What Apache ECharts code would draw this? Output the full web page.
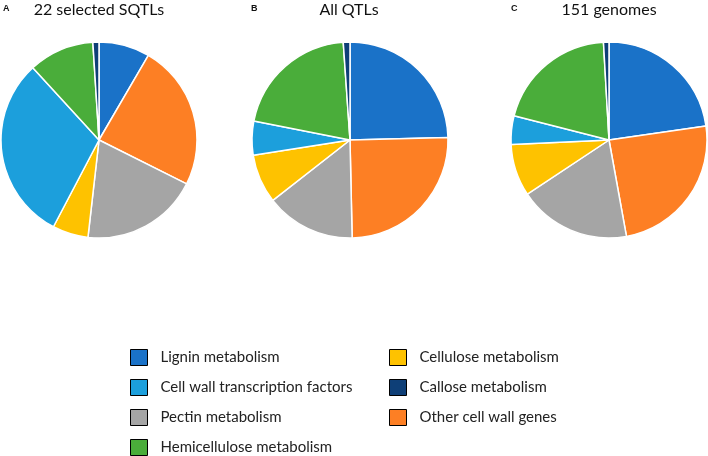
<!DOCTYPE html>
<html>
<head>
<meta charset="utf-8">
<script src="https://cdn.jsdelivr.net/npm/echarts@6/dist/echarts.min.js"></script>
<style>
html,body{margin:0;padding:0;background:#fff;}
#c{width:708px;height:456px;}
</style>
</head>
<body>
<div id="c"></div>
<script>
// Categories in clockwise slice order (starting at 12 o'clock)
const categories = ['Lignin metabolism', 'Other cell wall genes', 'Pectin metabolism', 'Cellulose metabolism',
  'Cell wall transcription factors', 'Hemicellulose metabolism', 'Callose metabolism'];
const colors = ['#1a72c8', '#fd7f24', '#a5a5a5', '#fec200', '#1c9fdc', '#4aad3a', '#0e3f77'];
// Percent shares
const sqtlValues = [8.4, 24.0, 19.4, 5.9, 30.5, 10.8, 1.0];
const allQtlValues = [24.6, 25.1, 14.8, 8.1, 5.6, 20.8, 1.1];
const genomeValues = [22.7, 24.4, 18.5, 8.6, 4.7, 20.1, 0.9];
const panelLetters = ['A', 'B', 'C'];
const panelTitles = ['22 selected SQTLs', 'All QTLs', '151 genomes'];
const legendCol1 = ['Lignin metabolism', 'Cell wall transcription factors', 'Pectin metabolism', 'Hemicellulose metabolism'];
const legendCol2 = ['Cellulose metabolism', 'Callose metabolism', 'Other cell wall genes'];

const font = 'Lato, "Noto Sans", sans-serif';
const centers = [[99, 140], [350, 140], [609, 140]];
const letterX = [3, 251, 511];
const titleX = [99, 349, 609];
const valueSets = [sqtlValues, allQtlValues, genomeValues];

const chart = echarts.init(document.getElementById('c'), null, {renderer: 'canvas'});

const titles = [];
panelLetters.forEach((l, i) => {
  titles.push({text: l, left: letterX[i], top: 4, padding: 0,
    textStyle: {fontFamily: 'Liberation Sans, Arial, sans-serif', fontSize: 9, fontWeight: 'bold', color: '#111'}});
  titles.push({text: panelTitles[i], left: titleX[i], top: 2, padding: 0, textAlign: 'center',
    textStyle: {fontFamily: font, fontSize: 16, fontWeight: 'normal', color: '#111'}});
});

const series = valueSets.map((vals, i) => ({
  type: 'pie',
  center: centers[i],
  radius: 98,
  startAngle: 90,
  clockwise: true,
  label: {show: false},
  labelLine: {show: false},
  emphasis: {disabled: true},
  itemStyle: {borderColor: '#fff', borderWidth: 1.5},
  data: categories.map((c, k) => ({name: c, value: vals[k], itemStyle: {color: colors[k]}}))
}));

const legendBase = {
  orient: 'vertical',
  icon: 'rect',
  itemWidth: 17,
  itemHeight: 16,
  itemGap: 13,
  padding: 0,
  height: 120,
  selectedMode: false,
  itemStyle: {borderColor: '#000', borderWidth: 1},
  textStyle: {fontFamily: font, fontSize: 15, lineHeight: 16, color: '#222', padding: [0, 0, 0, 8]}
};

chart.setOption({
  animation: false,
  backgroundColor: '#fff',
  color: colors,
  title: titles,
  legend: [
    Object.assign({}, legendBase, {left: 130, top: 349, data: legendCol1}),
    Object.assign({}, legendBase, {left: 389, top: 349, data: legendCol2})
  ],
  series: series
});
</script>
</body>
</html>
